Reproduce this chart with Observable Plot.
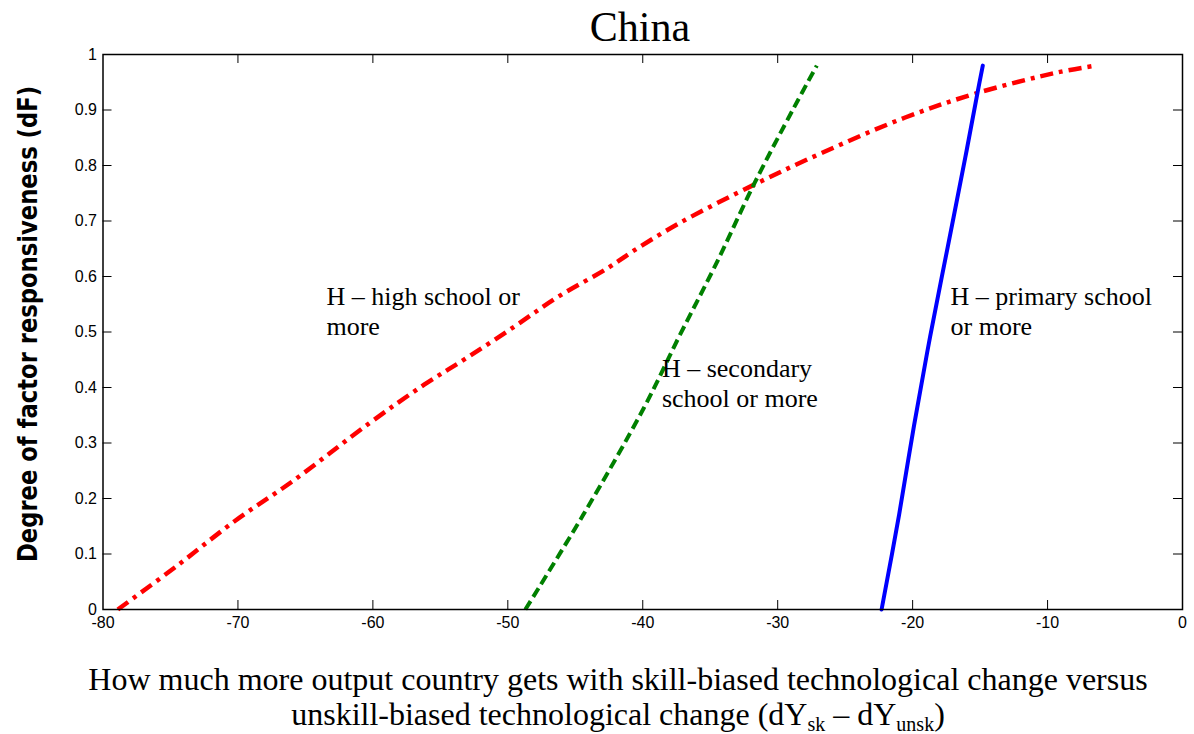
<!DOCTYPE html>
<html><head><meta charset="utf-8">
<script src="https://cdn.jsdelivr.net/npm/d3@7"></script>
<script src="https://cdn.jsdelivr.net/npm/@observablehq/plot@0.6"></script>
<style>body{margin:0;background:#fff} #chart{width:1194px;height:734px}</style>
</head><body><div id="chart"></div>
<script>
// ---- data ----
const xTicks = [-80, -70, -60, -50, -40, -30, -20, -10, 0];
const yTicks = [0, 0.1, 0.2, 0.3, 0.4, 0.5, 0.6, 0.7, 0.8, 0.9, 1];

const highX = [-78.9, -74.5, -70.2, -65.9, -60.3, -56.2, -53.0, -49.5, -46.3, -42.6, -40.7, -37.3, -31.7, -26.7, -20.6, -15.3, -9.2, -6.4];
const highY = [0, 0.079, 0.160, 0.232, 0.335, 0.405, 0.454, 0.510, 0.563, 0.615, 0.646, 0.696, 0.766, 0.823, 0.886, 0.930, 0.968, 0.980];

const secX = [-48.7, -44.4, -39.9, -37.3, -34.6, -31.7, -28.8, -27.1];
const secY = [0, 0.171, 0.364, 0.492, 0.621, 0.769, 0.904, 0.980];

const primX = [-22.3, -21.0, -19.9, -18.7, -17.4, -16.1, -15.2, -14.8];
const primY = [0, 0.171, 0.331, 0.492, 0.653, 0.814, 0.930, 0.980];

const labelText = ["H – high school or\nmore", "H – secondary\nschool or more", "H – primary school\nor more"];
const labelX = [-63.44, -38.58, -17.19];
const labelY = [0.588, 0.458, 0.588];

const titleText = "China";
const xLabel1 = "How much more output country gets with skill-biased technological change versus";
const xLabel2 = ["unskill-biased technological change (dY", "sk", " – dY", "unsk", ")"];
const yLabel = "Degree of factor responsiveness (dF)";

// ---- tables ----
const high = highX.map((x, i) => ({x, y: highY[i]}));
const sec = secX.map((x, i) => ({x, y: secY[i]}));
const prim = primX.map((x, i) => ({x, y: primY[i]}));
const labels = labelText.map((t, i) => ({t, x: labelX[i], y: labelY[i]}));

const tickLenY = 9 / 555;
const tickLenX = 9 / 13.49;
const inner = xTicks.slice(1, -1);
const innerY = yTicks.slice(1, -1);

const plot = Plot.plot({
  width: 1194, height: 734,
  marginLeft: 102.5, marginRight: 12, marginTop: 54, marginBottom: 125,
  x: {domain: [-80, 0]},
  y: {domain: [0, 1]},
  style: {fontFamily: "'Liberation Sans', Arial, sans-serif", fontSize: "16px", color: "#000", background: "#fff"},
  marks: [
    Plot.axisX({ticks: xTicks, tickSize: 0, tickPadding: 7, tickFormat: d => String(d), label: null}),
    Plot.axisY({ticks: yTicks, tickSize: 0, tickPadding: 6, tickFormat: d => String(d), label: null}),
    Plot.ruleX(inner, {x: d => d, y1: 0, y2: tickLenY, stroke: "#000", strokeWidth: 1}),
    Plot.ruleX(inner, {x: d => d, y1: 1 - tickLenY, y2: 1, stroke: "#000", strokeWidth: 1}),
    Plot.ruleY(innerY, {y: d => d, x1: -80, x2: -80 + tickLenX, stroke: "#000", strokeWidth: 1}),
    Plot.ruleY(innerY, {y: d => d, x1: -tickLenX, x2: 0, stroke: "#000", strokeWidth: 1}),
    Plot.line(high, {x: "x", y: "y", curve: "catmull-rom", stroke: "#ff0000", strokeWidth: 4.5,
      strokeDasharray: "13,6,4,6", strokeLinecap: "butt"}),
    Plot.line(sec, {x: "x", y: "y", curve: "catmull-rom", stroke: "#008000", strokeWidth: 4,
      strokeDasharray: "10,5", strokeLinecap: "butt"}),
    Plot.line(prim, {x: "x", y: "y", curve: "catmull-rom", stroke: "#0000ff", strokeWidth: 4}),
    Plot.frame({stroke: "#000", strokeWidth: 1.5}),
    Plot.text(labels, {x: "x", y: "y", text: "t", textAnchor: "start", lineAnchor: "top",
      fontSize: 26, fontFamily: "'Liberation Serif', 'Times New Roman', serif", lineHeight: 1.173, fill: "#000"})
  ]
});

document.getElementById("chart").appendChild(plot);
const svg = d3.select(plot);
const serif = "'Liberation Serif', 'Times New Roman', serif";

svg.append("text").attr("x", 640).attr("y", 40.5).attr("text-anchor", "middle")
  .attr("font-family", serif).attr("font-size", 42).attr("fill", "#000").text(titleText);

svg.append("text").attr("x", 618).attr("y", 690).attr("text-anchor", "middle")
  .attr("font-family", serif).attr("font-size", 32).attr("fill", "#000").text(xLabel1);

const t2 = svg.append("text").attr("x", 618).attr("y", 725).attr("text-anchor", "middle")
  .attr("font-family", serif).attr("font-size", 32).attr("fill", "#000");
t2.append("tspan").text(xLabel2[0]);
t2.append("tspan").attr("font-size", 20).attr("dy", 6).text(xLabel2[1]);
t2.append("tspan").attr("dy", -6).text(xLabel2[2]);
t2.append("tspan").attr("font-size", 20).attr("dy", 6).text(xLabel2[3]);
t2.append("tspan").attr("dy", -6).text(xLabel2[4]);

svg.append("text").attr("transform", "translate(37,324) rotate(-90)").attr("text-anchor", "middle")
  .attr("font-family", "'DejaVu Sans', sans-serif").attr("font-weight", "bold").attr("font-size", 26)
  .attr("textLength", 476).attr("lengthAdjust", "spacingAndGlyphs").attr("fill", "#000").text(yLabel);
</script>
</body></html>
